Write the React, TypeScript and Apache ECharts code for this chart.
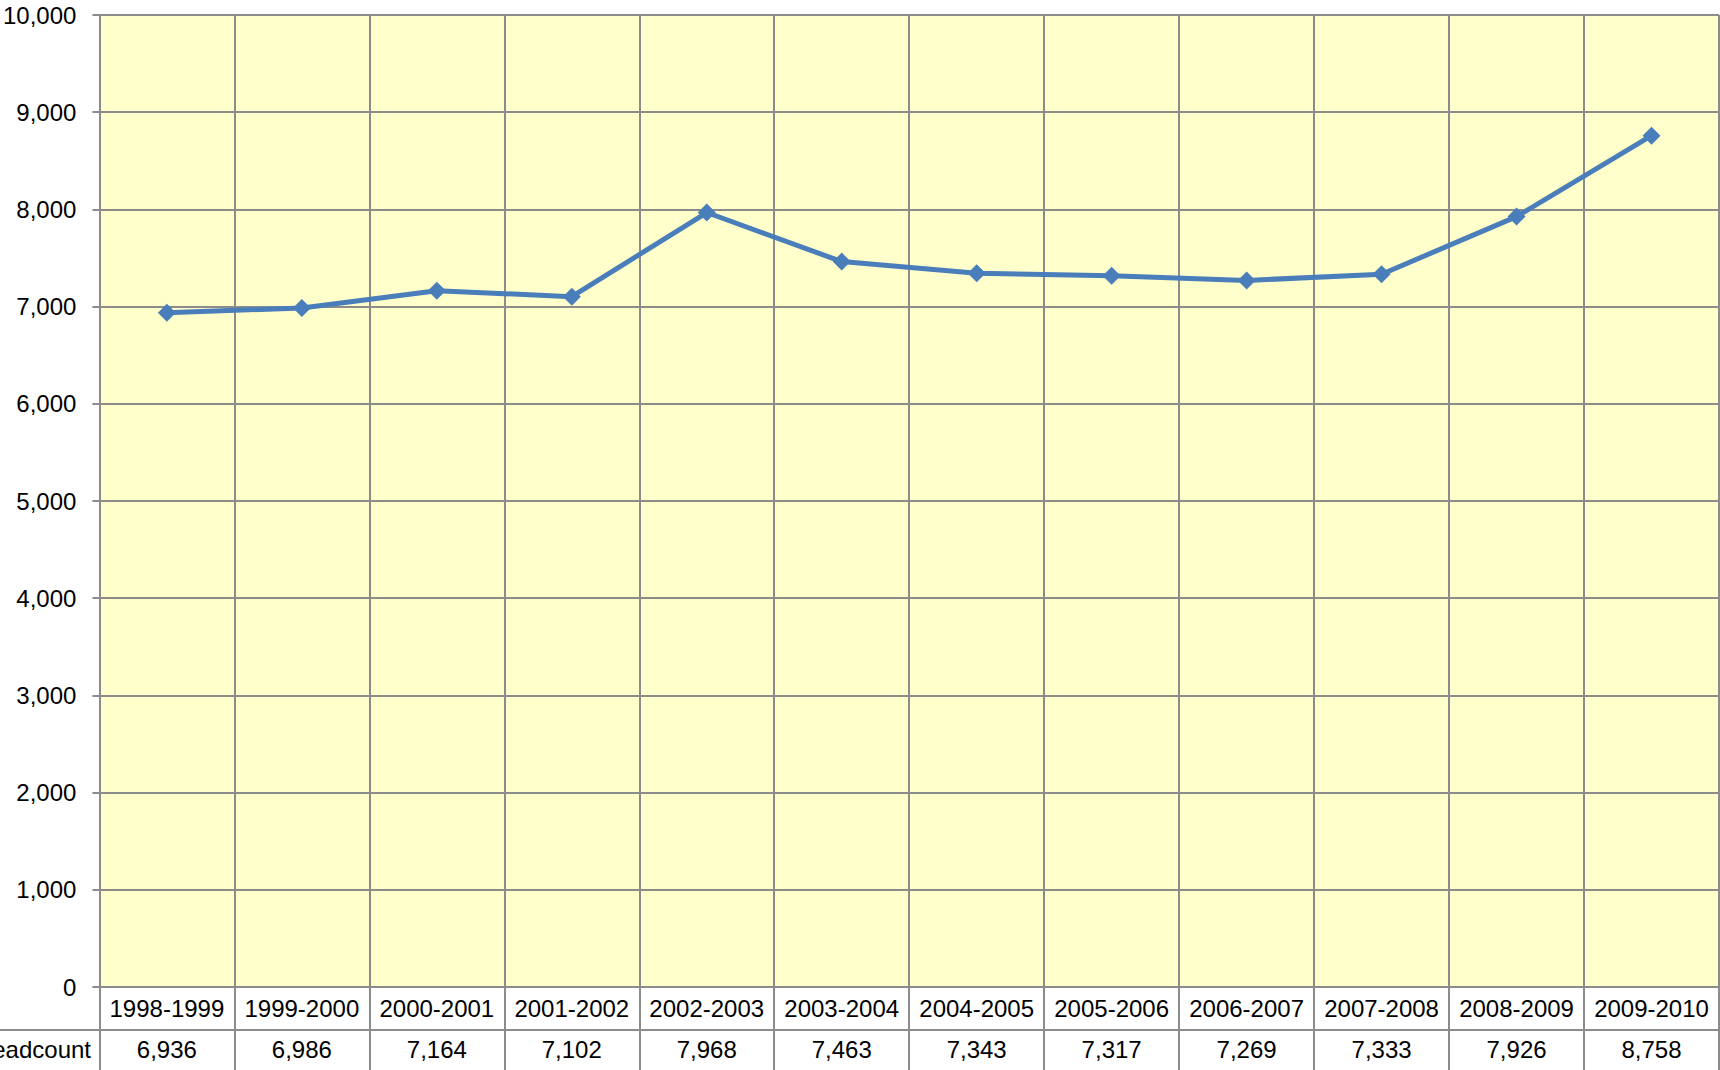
import React, { useEffect, useRef } from "react";
import * as echarts from "echarts";

const categories = [
  "1998-1999", "1999-2000", "2000-2001", "2001-2002", "2002-2003", "2003-2004",
  "2004-2005", "2005-2006", "2006-2007", "2007-2008", "2008-2009", "2009-2010",
];
const headcount = [6936, 6986, 7164, 7102, 7968, 7463, 7343, 7317, 7269, 7333, 7926, 8758];
const seriesName = "Headcount";
const yMin = 0;
const yMax = 10000;
const yInterval = 1000;

const fmt = (v: number) => v.toLocaleString("en-US");
const FONT = "'Liberation Sans', Arial, sans-serif";
const GRID_COLOR = "#8c8c8c";
const FS = 24;

export default function App() {
  const ref = useRef<HTMLDivElement>(null);
  useEffect(() => {
    document.body.style.margin = "0";
    const chart = echarts.init(ref.current!, null, { renderer: "svg" });
    chart.setOption({
      animation: false,
      backgroundColor: "#ffffff",
      textStyle: { fontFamily: FONT },
      grid: { left: 99, top: 15, right: 1, bottom: 83, show: true, backgroundColor: "#FFFFCC", borderWidth: 0 },
      xAxis: [
        {
          type: "category",
          data: categories,
          boundaryGap: true,
          axisLine: { show: true, lineStyle: { color: GRID_COLOR, width: 2 } },
          axisTick: { show: true, length: 83, alignWithLabel: false, lineStyle: { color: GRID_COLOR, width: 2 } },
          splitLine: { show: true, lineStyle: { color: GRID_COLOR, width: 2 } },
          axisLabel: { margin: 9, fontSize: FS, color: "#000", fontFamily: FONT, interval: 0 },
        },
        {
          type: "category",
          data: headcount.map(fmt),
          position: "bottom",
          offset: 43,
          boundaryGap: true,
          axisLine: { show: false },
          axisTick: { show: false },
          splitLine: { show: false },
          axisLabel: { margin: 7, fontSize: FS, color: "#000", fontFamily: FONT, interval: 0 },
        },
      ],
      yAxis: {
        type: "value",
        min: yMin,
        max: yMax,
        interval: yInterval,
        axisLine: { show: true, lineStyle: { color: GRID_COLOR, width: 2 } },
        axisTick: { show: true, length: 7, lineStyle: { color: GRID_COLOR, width: 2 } },
        splitLine: { show: true, lineStyle: { color: GRID_COLOR, width: 2 } },
        axisLabel: { margin: 23, fontSize: FS, color: "#000", fontFamily: FONT, formatter: (v: number) => fmt(v) },
      },
      graphic: [
        {
          type: "line",
          shape: { x1: 0, y1: 1030, x2: 1720, y2: 1030 },
          style: { stroke: GRID_COLOR, lineWidth: 2 },
          z: 10,
        },
        {
          type: "text",
          x: 91,
          y: 1049,
          style: {
            text: seriesName,
            fill: "#000",
            fontSize: FS,
            fontFamily: FONT,
            textAlign: "right",
            textVerticalAlign: "middle",
          },
          z: 10,
        },
      ],
      series: [
        {
          name: seriesName,
          type: "line",
          data: headcount,
          xAxisIndex: 0,
          symbol: "diamond",
          symbolSize: 18,
          lineStyle: { color: "#4A7EBB", width: 5 },
          itemStyle: { color: "#4A7EBB" },
          z: 5,
        },
      ],
    });
    return () => chart.dispose();
  }, []);
  return <div ref={ref} style={{ width: 1720, height: 1070 }} />;
}
